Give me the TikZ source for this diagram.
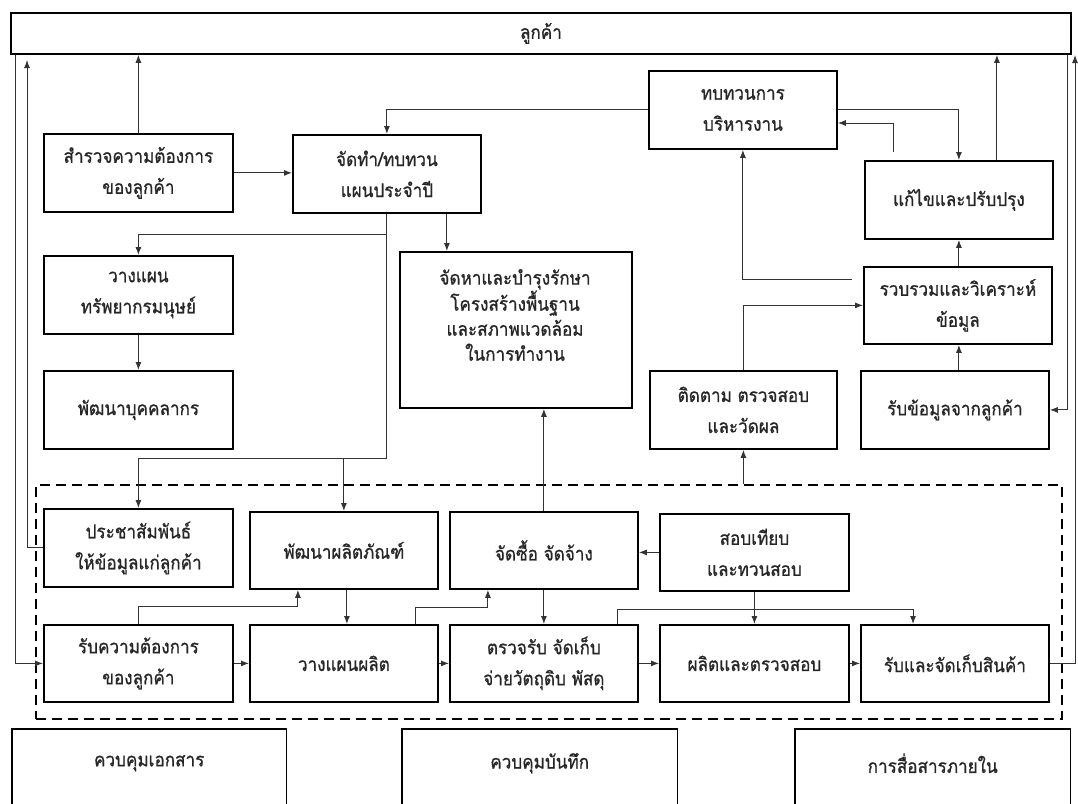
\documentclass[tikz,border=0pt]{standalone}
\usepackage{fontspec}
\newfontfamily\thaifont[Script=Thai,FakeBold=0.8,FakeStretch=0.9]{Loma}
\usetikzlibrary{arrows.meta}

\begin{document}
\begin{tikzpicture}[x=1pt,y=-1pt,
  txt/.style={align=center, inner sep=0pt, text=black!85, font=\thaifont\fontsize{19}{31}\selectfont},
  box/.style={txt, draw=black, line width=1.8pt, minimum width=189pt, minimum height=78pt, anchor=north west},
  conn/.style={draw=black!80, line width=1pt},
  arr/.style={conn, -{Latex[length=8pt,width=6pt]}},
]
\useasboundingbox (0,0) rectangle (1078,803);
\clip (0,0) rectangle (1078,803);
\fill[white] (0,0) rectangle (1078,803);

% customer bar
\node[box, minimum width=1060pt, minimum height=41pt] (cust) at (10,12) {ลูกค้า};

% planning and review
\node[box] (survey) at (43,133) {สำรวจความต้องการ\\ของลูกค้า};
\node[box, minimum width=188pt] (plan) at (292,134) {จัดทำ/ทบทวน\\แผนประจำปี};
\node[box, minimum width=188pt] (review) at (648,70) {ทบทวนการ\\บริหารงาน};
\node[box, minimum width=188pt] (fix) at (864,160) {แก้ไขและปรับปรุง};
\node[box] (hr) at (43,255) {วางแผน\\ทรัพยากรมนุษย์};
\node[box] (staff) at (43,370) {พัฒนาบุคคลากร};
\node[box, minimum width=232pt, minimum height=156pt] (infra) at (399,251) {};
\node[txt, font=\thaifont\fontsize{19}{25}\selectfont] (infratxt) at (515,315)
  {จัดหาและบำรุงรักษา\\โครงสร้างพื้นฐาน\\และสภาพแวดล้อม\\ในการทำงาน};
\node[box, minimum width=188pt, minimum height=77pt] (analyze) at (863,266) {รวบรวมและวิเคราะห์\\ข้อมูล};
\node[box, minimum width=187pt] (monitor) at (649,370) {ติดตาม ตรวจสอบ\\และวัดผล};
\node[box, minimum width=188pt] (feedback) at (860,370) {รับข้อมูลจากลูกค้า};

% operations group
\node[draw=black, line width=1.8pt, dash pattern=on 10pt off 6pt, minimum width=1026pt,
      minimum height=234pt, anchor=north west, inner sep=0pt] (grp) at (35,484) {};
\node[box] (pr) at (43,508) {ประชาสัมพันธ์\\ให้ข้อมูลแก่ลูกค้า};
\node[box, minimum width=188pt, minimum height=77pt] (dev) at (249,511) {พัฒนาผลิตภัณฑ์};
\node[box, minimum width=188pt, minimum height=77pt] (buy) at (449,511) {จัดซื้อ จัดจ้าง};
\node[box, minimum height=77pt] (calib) at (659,513) {สอบเทียบ\\และทวนสอบ};
\node[box, minimum height=77pt] (req) at (43,624) {รับความต้องการ\\ของลูกค้า};
\node[box, minimum width=188pt, minimum height=77pt] (pp) at (249,624) {วางแผนผลิต};
\node[box, minimum width=188pt, minimum height=77pt] (recv) at (449,624) {ตรวจรับ จัดเก็บ\\จ่ายวัตถุดิบ พัสดุ};
\node[box, minimum height=77pt] (prod) at (659,624) {ผลิตและตรวจสอบ};
\node[box, minimum width=188pt, minimum height=77pt] (store) at (860,624) {รับและจัดเก็บสินค้า};

% support processes (boxes run off the lower edge)
\node[txt, minimum width=274pt, minimum height=68pt, anchor=north west] (doc) at (12,729) {ควบคุมเอกสาร};
\node[txt, minimum width=275pt, minimum height=68pt, anchor=north west] (rec) at (402,729) {ควบคุมบันทึก};
\node[txt, minimum width=275pt, minimum height=68pt, anchor=north west] (comm) at (795,729) {การสื่อสารภายใน};
\foreach \b in {doc,rec,comm}
  \draw[line width=1.8pt] ([yshift=-20pt]\b.south west) |- (\b.north east) -- ([yshift=-20pt]\b.south east);

% connectors: top half
\draw[arr] (survey.north) -- (survey.north |- cust.south);
\draw[arr] (survey.east) -- (survey.east -| plan.west);
\draw[arr] (review.west) -| (plan.north);
\coordinate (j1) at (plan.south |- 0,458);
\draw[conn] (plan.south) -- (j1);
\draw[arr] (j1) -| (pr.north);
\draw[arr] (dev.north |- j1) -- (dev.north);
\draw[arr] (plan.south |- 0,234) -| (hr.north);
\draw[arr] ([xshift=60pt]plan.south) -- ([xshift=60pt]plan.south |- infra.north);
\draw[arr] (hr.south) -- (staff.north);
\draw[arr] (review.east) -| (fix.north);
\coordinate (fixstub) at (893,152);
\draw[arr] (fixstub) |- (review.east |- 0,123);
\coordinate (f1) at ([xshift=38pt]fix.north);
\draw[arr] (f1) -- (f1 |- cust.south);
\draw[arr] (fix.south |- analyze.north) -- (fix.south);
\draw[arr] (fix.south |- feedback.north) -- (fix.south |- analyze.south);
\coordinate (anstub) at (852,279);
\draw[arr] (anstub) -| (review.south);
\draw[arr] (monitor.north) |- (analyze.west);
\draw[arr] (monitor.south |- grp.north) -- (monitor.south);
\draw[arr] (buy.north) -- (buy.north |- infra.south);

% connectors: operations
\draw[arr] (calib.west) -- (calib.west -| buy.east);
\draw[arr] (calib.south) -- (calib.south |- prod.north);
\coordinate (r1) at ([xshift=-21pt]recv.north east);
\coordinate (s1) at ([xshift=53pt]store.north west);
\draw[arr] (r1) -- (r1 |- 0,609) -| (s1);
\coordinate (d1) at ([xshift=-46pt]dev.south);
\draw[arr] (req.north) -- (req.north |- 0,606) -| (d1);
\draw[arr] ([xshift=3pt]dev.south) -- ([xshift=3pt]dev.south |- pp.north);
\coordinate (p1) at ([xshift=72pt]pp.north);
\coordinate (b1) at ([xshift=-56pt]buy.south);
\draw[arr] (p1) -- (p1 |- 0,607) -| (b1);
\draw[arr] (buy.south) -- (recv.north);
\draw[arr] (req.east) -- (pp.west);
\draw[arr] (pp.east) -- (recv.west);
\draw[arr] (recv.east) -- (prod.west);
\draw[arr] (prod.east) -- (store.west);

% connectors: back to the customer
\coordinate (rtop) at (1075,55);
\draw[arr] (store.east) -| (rtop);
\draw[arr] (cust.south -| 1067,0) |- (feedback.east);
\draw[arr] (cust.south -| 15.5,0) |- (req.west);
\coordinate (ltop) at (27,60);
\draw[arr] (pr.west) -| (ltop);
\end{tikzpicture}
\end{document}
